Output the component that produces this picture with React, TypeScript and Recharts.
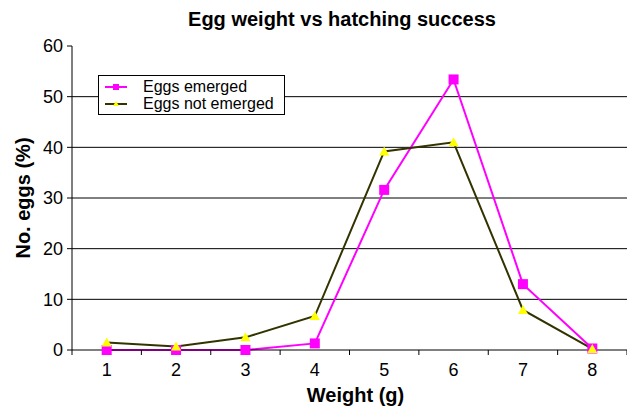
import { LineChart, Line, XAxis, YAxis, CartesianGrid, Legend, Label } from "recharts";

const weights = [1, 2, 3, 4, 5, 6, 7, 8];
const eggsEmerged = [0, 0, 0, 1.3, 31.6, 53.4, 13, 0.3];
const eggsNotEmerged = [1.5, 0.7, 2.5, 6.7, 39.2, 41, 7.9, 0.2];
const yTicks = [0, 10, 20, 30, 40, 50, 60];
const gridValues = [10, 20, 30, 40, 50];
// labels sit on the weights, tick marks on the boundaries between them
const xTicks = [0.5, 1, 1.5, 2, 2.5, 3, 3.5, 4, 4.5, 5, 5.5, 6, 6.5, 7, 7.5, 8, 8.5];

const MAGENTA = "#ff00ff";
const OLIVE = "#333300";
const YELLOW = "#ffff00";
const FONT = "'Liberation Sans', Arial, sans-serif";

const data = weights.map((w, i) => ({ weight: w, emerged: eggsEmerged[i], notEmerged: eggsNotEmerged[i] }));

function WeightTick(props: any) {
  const { x, y, payload } = props;
  const v = payload.value as number;
  if (Number.isInteger(v)) {
    return (
      <text x={x} y={y + 26} textAnchor="middle" fontSize={18} fontFamily={FONT} fill="#000">
        {v}
      </text>
    );
  }
  return <line x1={x} x2={x} y1={y} y2={y + 5} stroke="#000" />;
}

function Square(props: any) {
  const { cx, cy } = props;
  if (cx == null || cy == null) return null;
  return <rect x={cx - 5} y={cy - 5} width={10} height={10} fill={MAGENTA} />;
}

function Triangle(props: any) {
  const { cx, cy } = props;
  if (cx == null || cy == null) return null;
  return <polygon points={`${cx},${cy - 5} ${cx + 5},${cy + 4} ${cx - 5},${cy + 4}`} fill={YELLOW} />;
}

function LegendBox() {
  const row = { display: "flex", alignItems: "center", height: 17 } as const;
  return (
    <div
      style={{
        border: "1px solid #000",
        background: "#fff",
        padding: "2px 10px 2px 6px",
        fontFamily: FONT,
        fontSize: 16,
        lineHeight: "17px",
        whiteSpace: "nowrap",
      }}
    >
      <div style={row}>
        <svg width={22} height={10} style={{ marginRight: 16 }}>
          <line x1={0} x2={22} y1={5} y2={5} stroke={MAGENTA} strokeWidth={2} />
          <rect x={8} y={2} width={6} height={6} fill={MAGENTA} />
        </svg>
        Eggs emerged
      </div>
      <div style={row}>
        <svg width={22} height={10} style={{ marginRight: 16 }}>
          <line x1={0} x2={22} y1={5} y2={5} stroke={OLIVE} strokeWidth={2} />
          <polygon points="11,2 14,7 8,7" fill={YELLOW} />
        </svg>
        Eggs not emerged
      </div>
    </div>
  );
}

export default function App() {
  return (
    <div style={{ position: "relative", width: 627, height: 410, background: "#fff", fontFamily: FONT }}>
      <style>{`body{margin:0}`}</style>
      <div
        style={{
          position: "absolute",
          top: 8,
          left: 0,
          width: 684,
          textAlign: "center",
          fontSize: 20,
          fontWeight: "bold",
          zIndex: 2,
        }}
      >
        Egg weight vs hatching success
      </div>
      <LineChart width={627} height={410} data={data} margin={{ top: 46, right: 0, bottom: 30, left: 0 }}>
        <CartesianGrid horizontal vertical={false} horizontalValues={gridValues} stroke="#000" />
        <XAxis
          dataKey="weight"
          type="number"
          domain={[0.5, 8.5]}
          ticks={xTicks}
          interval={0}
          tickLine={false}
          tickSize={0}
          tickMargin={0}
          tick={<WeightTick />}
          height={30}
          axisLine={{ stroke: "#000" }}
        >
          <Label
            content={(p: any) => (
              <text
                x={p.viewBox.x + p.viewBox.width / 2 + 6}
                y={p.viewBox.y + 52}
                textAnchor="middle"
                fontSize={20}
                fontWeight="bold"
                fontFamily={FONT}
              >
                Weight (g)
              </text>
            )}
          />
        </XAxis>
        <YAxis
          domain={[0, 60]}
          ticks={yTicks}
          interval={0}
          width={72}
          tickSize={5}
          tickMargin={4}
          tick={{ fill: "#000", fontSize: 18, fontFamily: FONT }}
          tickLine={{ stroke: "#000" }}
          axisLine={{ stroke: "#000" }}
        >
          <Label
            content={(p: any) => {
              const cx = p.viewBox.x + 23;
              const cy = p.viewBox.y + p.viewBox.height / 2;
              return (
                <text
                  x={cx}
                  y={cy}
                  transform={`rotate(-90 ${cx} ${cy})`}
                  textAnchor="middle"
                  dominantBaseline="central"
                  fontSize={20}
                  fontWeight="bold"
                  fontFamily={FONT}
                >
                  No. eggs (%)
                </text>
              );
            }}
          />
        </YAxis>
        <Legend
          layout="vertical"
          align="center"
          verticalAlign="middle"
          content={() => <LegendBox />}
          wrapperStyle={{ position: "absolute", left: 98, top: 75, bottom: "auto", width: "auto" }}
        />
        <Line
          dataKey="emerged"
          stroke={MAGENTA}
          strokeWidth={2}
          dot={<Square />}
          activeDot={false}
          isAnimationActive={false}
        />
        <Line
          dataKey="notEmerged"
          stroke={OLIVE}
          strokeWidth={2}
          dot={<Triangle />}
          activeDot={false}
          isAnimationActive={false}
        />
      </LineChart>
    </div>
  );
}
